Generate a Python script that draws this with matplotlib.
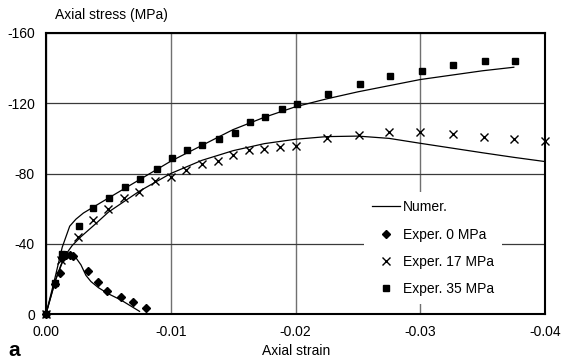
import matplotlib
matplotlib.use("Agg")
import matplotlib.pyplot as plt
from matplotlib.lines import Line2D

plt.rcParams["font.family"] = ["Liberation Sans", "DejaVu Sans"]
plt.rcParams["font.size"] = 10

# Experimental data (axial strain, axial stress in MPa; compression negative)
exp0_strain = [0, -0.0007, -0.0011, -0.0013, -0.0016, -0.0019, -0.0022,
               -0.0034, -0.0042, -0.0049, -0.0060, -0.0070, -0.0080]
exp0_stress = [0, -17, -23.5, -32, -33.5, -33.5, -33,
               -24.7, -18.4, -13.1, -9.9, -7.0, -3.6]

exp17_strain = [0, -0.0012, -0.00254, -0.00374, -0.0050, -0.00625, -0.00748,
                -0.00874, -0.0100, -0.01122, -0.01253, -0.01376, -0.01502,
                -0.01627, -0.0175, -0.01876, -0.0200, -0.02255, -0.02512,
                -0.02752, -0.0300, -0.0326, -0.03511, -0.03752, -0.0400]
exp17_stress = [0, -31, -43.7, -53.6, -59.8, -66.3, -69.7,
                -76, -77.9, -82, -85.5, -87.4, -90.4,
                -93.4, -94, -95.3, -95.9, -100.3, -102.2,
                -103.9, -103.9, -102.6, -101, -99.7, -98.4]

exp35_strain = [0, -0.00072, -0.00126, -0.00265, -0.0038, -0.00505, -0.00633,
                -0.00754, -0.00887, -0.01007, -0.01128, -0.01253, -0.01387,
                -0.01512, -0.01633, -0.01756, -0.01889, -0.0201, -0.0226,
                -0.02517, -0.02758, -0.03012, -0.0326, -0.03519, -0.0376]
exp35_stress = [0, -17.7, -34.2, -50.3, -60.6, -66.3, -72.2,
                -76.9, -82.4, -88.7, -93.1, -96.5, -99.5,
                -103.3, -109.2, -111.9, -116.8, -119.8, -125,
                -130.7, -135.8, -138.1, -141.7, -143.8, -143.8]

# Numerical predictions
num0_strain = [0, -0.0008, -0.0014, -0.0020, -0.0024, -0.0028, -0.0032,
               -0.0036, -0.0042, -0.0050, -0.0060, -0.0075]
num0_stress = [0, -20, -31, -34, -32, -28, -22,
               -18.5, -15, -11.5, -8, -1.5]

num17_strain = [0, -0.0007, -0.0012, -0.0016, -0.0021, -0.0028, -0.0040,
                -0.0050, -0.0075, -0.0100, -0.0125, -0.0150, -0.0175,
                -0.0200, -0.0225, -0.0250, -0.0275, -0.0300, -0.0325,
                -0.0350, -0.0375, -0.0400]
num17_stress = [0, -18, -28, -34, -39, -44, -51.5,
                -58, -70, -80, -87.5, -93, -97,
                -99.5, -101, -101.3, -100, -97.2, -94.5,
                -91.8, -89.2, -86.8]

num35_strain = [0, -0.0007, -0.0013, -0.0019, -0.0024, -0.0030, -0.0050,
                -0.0075, -0.0100, -0.0125, -0.0150, -0.0175, -0.0200,
                -0.0225, -0.0250, -0.0275, -0.0300, -0.0325, -0.0350,
                -0.0375]
num35_stress = [0, -20, -38, -50, -54, -57.5, -66,
                -76.5, -87, -96, -105, -112, -118,
                -122.5, -126.5, -130, -133.5, -136, -138.5,
                -140.5]

x_ticks = [0.0, -0.01, -0.02, -0.03, -0.04]
x_labels = ["0.00", "-0.01", "-0.02", "-0.03", "-0.04"]
y_ticks = [0, -40, -80, -120, -160]
y_labels = ["0", "-40", "-80", "-120", "-160"]

fig = plt.figure(figsize=(5.63, 3.60), dpi=100)
ax = fig.add_axes([46 / 563, 1 - 314 / 360, 499 / 563, 281 / 360])

for xs, ys in [(num0_strain, num0_stress), (num17_strain, num17_stress),
               (num35_strain, num35_stress)]:
    ax.plot(xs, ys, color="black", lw=0.9, zorder=3)

ax.plot(exp0_strain, exp0_stress, ls="none", marker="D", ms=4.3,
        color="black", zorder=4, clip_on=False)
ax.plot(exp17_strain, exp17_stress, ls="none", marker="x", ms=5.5, mew=1.0,
        color="black", zorder=4, clip_on=False)
ax.plot(exp35_strain, exp35_stress, ls="none", marker="s", ms=5,
        color="black", zorder=4, clip_on=False)

ax.set_xlim(0, -0.04)
ax.set_ylim(0, -160)
ax.set_xticks(x_ticks)
ax.set_xticklabels(x_labels)
ax.set_yticks(y_ticks)
ax.set_yticklabels(y_labels)
ax.tick_params(axis="both", length=0, labelsize=10)
ax.tick_params(axis="y", pad=8)
ax.tick_params(axis="x", pad=8)

ax.xaxis.grid(True, color="#707070", lw=1.0)
ax.yaxis.grid(True, color="#3a3a3a", lw=0.9)
ax.set_axisbelow(True)
for sp in ax.spines.values():
    sp.set_linewidth(1.5)
    sp.set_color("black")

handles = [
    Line2D([], [], color="black", lw=0.9),
    Line2D([], [], ls="none", marker="D", ms=4.3, color="black"),
    Line2D([], [], ls="none", marker="x", ms=5.5, mew=1.0, color="black"),
    Line2D([], [], ls="none", marker="s", ms=5, color="black"),
]
labels = ["Numer.", "Exper. 0 MPa", "Exper. 17 MPa", "Exper. 35 MPa"]
leg = ax.legend(handles, labels, loc="upper left",
                bbox_to_anchor=((364 - 46) / 499, (314 - 192) / 281),
                frameon=True, fancybox=False, framealpha=1.0,
                facecolor="white", edgecolor="none",
                handlelength=2.0, handletextpad=0.2, labelspacing=0.95,
                borderpad=0.6, borderaxespad=0, fontsize=10)
leg.set_zorder(5)

fig.text(296 / 563, 1 - 351 / 360, "Axial strain", ha="center",
         va="center", fontsize=10)
fig.text(111 / 563, 1 - 15 / 360, "Axial stress (MPa)", ha="center",
         va="center", fontsize=10)
fig.text(8 / 563, 1 - 356 / 360, "a", ha="left", va="baseline",
         fontsize=15, fontweight="bold")

fig.savefig("out.png", dpi=100)
